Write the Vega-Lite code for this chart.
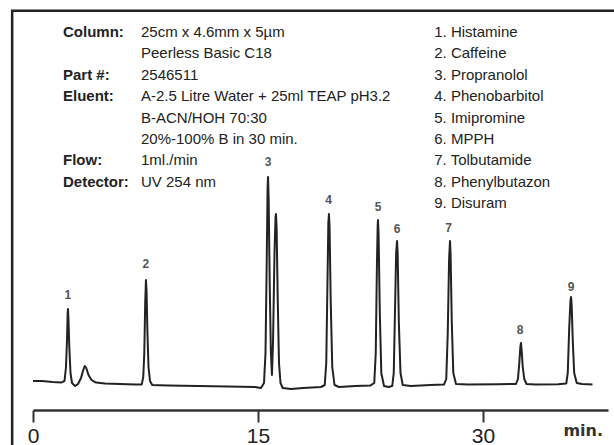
{
  "$schema": "https://vega.github.io/schema/vega-lite/v6.json",
  "width": 575,
  "height": 400,
  "autosize": {"type": "none"},
  "padding": {"left": 33, "top": 10, "right": 6, "bottom": 35},
  "background": "white",
  "config": {"view": {"stroke": null}, "font": "Liberation Sans"},
  "layer": [
    {
      "data": {"values": [
      {"t": 0.0, "v": 1.0}, {"t": 0.6, "v": 1.0}, {"t": 1.3, "v": 0.5}, {"t": 1.9, "v": 0.3},
      {"t": 2.1, "v": 1.0}, {"t": 2.2, "v": 8}, {"t": 2.27, "v": 22}, {"t": 2.31, "v": 35},
      {"t": 2.33, "v": 37}, {"t": 2.36, "v": 33}, {"t": 2.42, "v": 18}, {"t": 2.5, "v": 5},
      {"t": 2.6, "v": 0}, {"t": 2.8, "v": -1.5}, {"t": 3.0, "v": -0.5}, {"t": 3.2, "v": 2.5},
      {"t": 3.35, "v": 6.5}, {"t": 3.45, "v": 8.5}, {"t": 3.55, "v": 7.5}, {"t": 3.7, "v": 4},
      {"t": 3.9, "v": 1.5}, {"t": 4.2, "v": 0.2}, {"t": 4.8, "v": -0.3}, {"t": 5.8, "v": -0.5},
      {"t": 6.8, "v": -0.8}, {"t": 7.25, "v": -0.7}, {"t": 7.35, "v": 3}, {"t": 7.42, "v": 15},
      {"t": 7.48, "v": 40}, {"t": 7.53, "v": 51.5}, {"t": 7.57, "v": 46}, {"t": 7.63, "v": 25},
      {"t": 7.7, "v": 8}, {"t": 7.8, "v": 1}, {"t": 7.95, "v": -1}, {"t": 9, "v": -1.2},
      {"t": 11, "v": -1.5}, {"t": 13, "v": -1.8}, {"t": 14.8, "v": -2}, {"t": 15.2, "v": -2.5},
      {"t": 15.4, "v": 0}, {"t": 15.5, "v": 15}, {"t": 15.58, "v": 60}, {"t": 15.64, "v": 98},
      {"t": 15.67, "v": 103}, {"t": 15.71, "v": 92}, {"t": 15.78, "v": 50}, {"t": 15.86, "v": 15},
      {"t": 15.93, "v": 4}, {"t": 16.0, "v": 20}, {"t": 16.1, "v": 65}, {"t": 16.17, "v": 83},
      {"t": 16.2, "v": 84.5}, {"t": 16.24, "v": 78}, {"t": 16.32, "v": 40}, {"t": 16.4, "v": 10},
      {"t": 16.5, "v": 0}, {"t": 16.65, "v": -2.5}, {"t": 17.2, "v": -3}, {"t": 18, "v": -2.5},
      {"t": 19.2, "v": -2}, {"t": 19.45, "v": -1}, {"t": 19.55, "v": 10}, {"t": 19.63, "v": 50},
      {"t": 19.69, "v": 80}, {"t": 19.73, "v": 84.5}, {"t": 19.77, "v": 78}, {"t": 19.85, "v": 40},
      {"t": 19.95, "v": 8}, {"t": 20.1, "v": -1}, {"t": 20.4, "v": -2}, {"t": 21.5, "v": -1.5},
      {"t": 22.5, "v": -1.2}, {"t": 22.75, "v": 0}, {"t": 22.85, "v": 15}, {"t": 22.93, "v": 60},
      {"t": 22.98, "v": 79}, {"t": 23.0, "v": 81.5}, {"t": 23.04, "v": 74}, {"t": 23.12, "v": 35},
      {"t": 23.22, "v": 5}, {"t": 23.4, "v": -1.5}, {"t": 23.7, "v": -2}, {"t": 23.95, "v": -1.5},
      {"t": 24.05, "v": 5}, {"t": 24.13, "v": 35}, {"t": 24.21, "v": 65}, {"t": 24.27, "v": 71},
      {"t": 24.31, "v": 65}, {"t": 24.39, "v": 30}, {"t": 24.5, "v": 5}, {"t": 24.65, "v": -1},
      {"t": 25.2, "v": -1.5}, {"t": 26.5, "v": -1}, {"t": 27.4, "v": -0.8}, {"t": 27.55, "v": 2},
      {"t": 27.65, "v": 25}, {"t": 27.74, "v": 62}, {"t": 27.8, "v": 71}, {"t": 27.84, "v": 64},
      {"t": 27.92, "v": 30}, {"t": 28.02, "v": 5}, {"t": 28.2, "v": -0.5}, {"t": 29, "v": -0.8},
      {"t": 31, "v": -0.6}, {"t": 32.2, "v": -0.5}, {"t": 32.33, "v": 2}, {"t": 32.42, "v": 10},
      {"t": 32.49, "v": 18}, {"t": 32.53, "v": 20}, {"t": 32.57, "v": 17}, {"t": 32.65, "v": 8},
      {"t": 32.75, "v": 2}, {"t": 32.9, "v": -0.5}, {"t": 33.5, "v": -0.8}, {"t": 35, "v": -0.6},
      {"t": 35.55, "v": -0.3}, {"t": 35.65, "v": 5}, {"t": 35.75, "v": 28}, {"t": 35.83, "v": 41},
      {"t": 35.87, "v": 43}, {"t": 35.91, "v": 39}, {"t": 35.99, "v": 20}, {"t": 36.08, "v": 5},
      {"t": 36.25, "v": 0}, {"t": 36.6, "v": -0.5}, {"t": 37.3, "v": -0.7}
      ]},
      "mark": {"type": "line", "color": "#222", "strokeWidth": 2, "strokeJoin": "round"},
      "encoding": {
        "x": {
          "field": "t", "type": "quantitative",
          "scale": {"domain": [0, 38.333], "nice": false, "zero": false},
          "axis": {
            "values": [0, 15, 30], "title": null, "grid": false,
            "domainColor": "#333", "domainWidth": 2.5,
            "tickColor": "#333", "tickWidth": 2, "tickSize": 12,
            "labelFontSize": 21, "labelColor": "#222", "labelPadding": 3,
            "labelFont": "Liberation Sans", "labelFlush": false
          }
        },
        "y": {
          "field": "v", "type": "quantitative",
          "scale": {"domain": [-13.5, 186.5], "nice": false, "zero": false},
          "axis": null
        }
      }
    },
    {
      "data": {"values": [
        {"t": -1.39, "v": -60, "i": 1},
        {"t": -1.39, "v": 186.1, "i": 2},
        {"t": 40, "v": 186.1, "i": 3}
      ]},
      "mark": {"type": "line", "color": "#222", "strokeWidth": 2.5},
      "encoding": {
        "x": {"field": "t", "type": "quantitative"},
        "y": {"field": "v", "type": "quantitative"},
        "order": {"field": "i", "type": "quantitative"}
      }
    },
    {
      "data": {"values": [
        {"t": 2.33, "v": 44, "label": "1"},
        {"t": 7.53, "v": 59.5, "label": "2"},
        {"t": 15.67, "v": 110.5, "label": "3"},
        {"t": 19.7, "v": 91.5, "label": "4"},
        {"t": 23.0, "v": 88, "label": "5"},
        {"t": 24.27, "v": 77, "label": "6"},
        {"t": 27.7, "v": 77.5, "label": "7"},
        {"t": 32.47, "v": 26.5, "label": "8"},
        {"t": 35.87, "v": 48, "label": "9"}
      ]},
      "mark": {"type": "text", "fontSize": 12, "fontWeight": "bold", "color": "#555", "baseline": "middle", "align": "center"},
      "encoding": {
        "x": {"field": "t", "type": "quantitative"},
        "y": {"field": "v", "type": "quantitative"},
        "text": {"field": "label", "type": "nominal"}
      }
    },
    {
      "data": {"values": [
        {"t": 2.0, "v": 175.5, "label": "Column:"},
        {"t": 2.0, "v": 154.1, "label": "Part #:"},
        {"t": 2.0, "v": 143.4, "label": "Eluent:"},
        {"t": 2.0, "v": 111.3, "label": "Flow:"},
        {"t": 2.0, "v": 100.6, "label": "Detector:"}
      ]},
      "mark": {"type": "text", "fontSize": 15, "fontWeight": "bold", "color": "#222", "baseline": "middle", "align": "left"},
      "encoding": {
        "x": {"field": "t", "type": "quantitative"},
        "y": {"field": "v", "type": "quantitative"},
        "text": {"field": "label", "type": "nominal"}
      }
    },
    {
      "data": {"values": [
        {"t": 7.2, "v": 175.5, "label": "25cm x 4.6mm x 5µm"},
        {"t": 7.2, "v": 164.8, "label": "Peerless Basic C18"},
        {"t": 7.2, "v": 154.1, "label": "2546511"},
        {"t": 7.2, "v": 143.4, "label": "A-2.5 Litre Water + 25ml TEAP pH3.2"},
        {"t": 7.2, "v": 132.7, "label": "B-ACN/HOH 70:30"},
        {"t": 7.2, "v": 122.0, "label": "20%-100% B in 30 min."},
        {"t": 7.2, "v": 111.3, "label": "1ml./min"},
        {"t": 7.2, "v": 100.6, "label": "UV 254 nm"},
        {"t": 26.75, "v": 175.5, "label": "1. Histamine"},
        {"t": 26.75, "v": 164.8, "label": "2. Caffeine"},
        {"t": 26.75, "v": 154.1, "label": "3. Propranolol"},
        {"t": 26.75, "v": 143.4, "label": "4. Phenobarbitol"},
        {"t": 26.75, "v": 132.7, "label": "5. Imipromine"},
        {"t": 26.75, "v": 122.0, "label": "6. MPPH"},
        {"t": 26.75, "v": 111.3, "label": "7. Tolbutamide"},
        {"t": 26.75, "v": 100.6, "label": "8. Phenylbutazon"},
        {"t": 26.75, "v": 89.9, "label": "9. Disuram"}
      ]},
      "mark": {"type": "text", "fontSize": 15, "color": "#222", "baseline": "middle", "align": "left"},
      "encoding": {
        "x": {"field": "t", "type": "quantitative"},
        "y": {"field": "v", "type": "quantitative"},
        "text": {"field": "label", "type": "nominal"}
      }
    },
    {
      "data": {"values": [{"t": 38.0, "v": -24, "label": "min."}]},
      "mark": {"type": "text", "fontSize": 16, "fontWeight": "bold", "font": "DejaVu Sans", "color": "#333", "baseline": "middle", "align": "right"},
      "encoding": {
        "x": {"field": "t", "type": "quantitative"},
        "y": {"field": "v", "type": "quantitative"},
        "text": {"field": "label", "type": "nominal"}
      }
    }
  ]
}
